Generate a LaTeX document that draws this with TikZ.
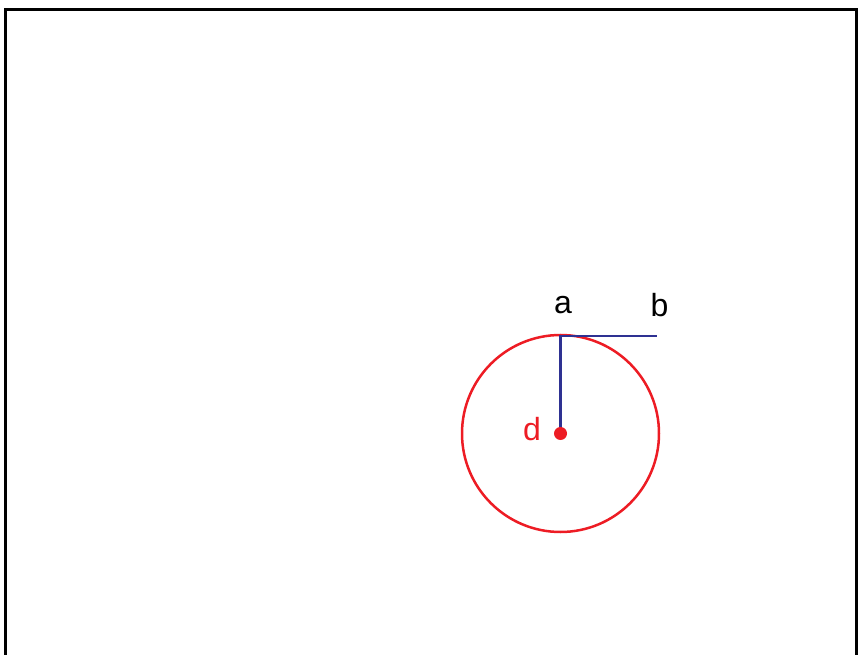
\documentclass[tikz,border=0pt]{standalone}
\usepackage{fontspec}
\setmainfont{Liberation Sans}
\definecolor{dred}{RGB}{237,28,36}
\definecolor{dblue}{RGB}{46,49,146}
\begin{document}
\begin{tikzpicture}[x=1pt,y=-1pt,
  lbl/.style={inner sep=0pt, anchor=base, font=\fontsize{32}{37}\selectfont},
  seg/.style={draw=dblue, line width=2.4pt}]
\useasboundingbox (0,0) rectangle (863,655);
\draw[line width=3pt, black] (5.5,660) -- (5.5,9.5) -- (856,9.5) -- (856,660);
\node[circle, draw=dred, line width=2.5pt, minimum size=197pt, inner sep=0pt] (c) at (560.5,433.5) {};
\coordinate (a) at (560.5,336);
\coordinate (b) at (656.5,336);
\coordinate (o) at (560.5,433.5);
\draw[seg] (o) -- (a) -- (b);
\node[circle, fill=dred, minimum size=13pt, inner sep=0pt] (dot) at (o) {};
\node[lbl] (la) at (563,314) {a};
\node[lbl] (lb) at (659.5,317) {b};
\node[lbl, text=dred] (ld) at (532,440) {d};
\end{tikzpicture}
\end{document}
